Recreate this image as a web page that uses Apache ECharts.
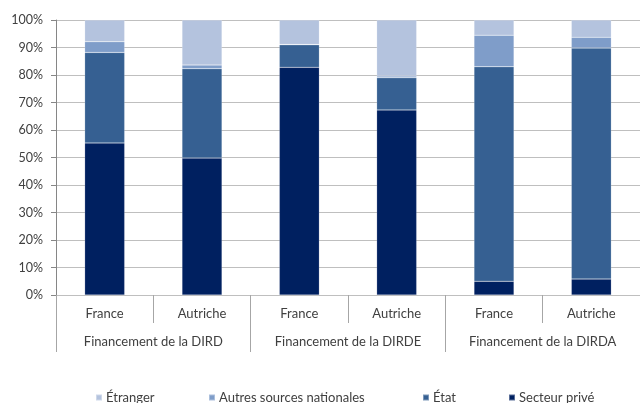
<!DOCTYPE html>
<html><head><meta charset="utf-8">
<script src="https://cdn.jsdelivr.net/npm/echarts@6/dist/echarts.min.js"></script>
<style>html,body{margin:0;padding:0;background:#fff}#c{width:640px;height:403px}</style>
</head><body><div id="c"></div>
<script>
const countries = ['France','Autriche','France','Autriche','France','Autriche'];
const groups = ['Financement de la DIRD','Financement de la DIRDE','Financement de la DIRDA'];
const yTicks = [0,10,20,30,40,50,60,70,80,90,100];
const seriesNames = ['Étranger','Autres sources nationales','État','Secteur privé'];
const secteurPrive = [55.3, 49.8, 82.8, 67.3, 5.0, 5.8];
const etat = [32.9, 32.5, 8.2, 11.7, 78.0, 84.0];
const autres = [3.9, 1.3, 0.1, 0.6, 11.5, 3.9];
const etranger = [7.9, 16.4, 8.9, 20.4, 5.5, 6.3];

const colors = {'Étranger':'#B4C3DE','Autres sources nationales':'#7F9DC9','État':'#366092','Secteur privé':'#002060'};
const font = 'Lato, "Open Sans", sans-serif';
const chart = echarts.init(document.getElementById('c'));
function bar(name, data){
  return {name, type:'bar', stack:'t', data, barWidth:40, xAxisIndex:0,
    itemStyle:{color:colors[name], borderColor:'rgba(255,255,255,0.35)', borderWidth:0.5}};
}
const legendLefts = [90, 203, 417, 503];
chart.setOption({
  animation:false,
  grid:{left:56, right:-4, top:20, bottom:108},
  legend: seriesNames.map((n,i)=>({data:[n], left:legendLefts[i], top:386, itemWidth:6, itemHeight:6, icon:'rect', itemGap:4,
    textStyle:{color:'#404040', fontSize:13, fontFamily:font, padding:[0,0,0,-1]}})),
  xAxis:[
    {type:'category', data:countries, position:'bottom',
      axisLine:{lineStyle:{color:'#BFBFBF'}},
      axisTick:{show:true, interval:0, length:28, lineStyle:{color:'#A6A6A6'}},
      axisLabel:{color:'#404040', fontSize:13, fontFamily:font, margin:12, interval:0}},
    {type:'category', data:groups, position:'bottom', offset:0,
      axisLine:{show:false},
      axisTick:{show:true, interval:0, length:57, lineStyle:{color:'#A6A6A6'}},
      axisLabel:{color:'#404040', fontSize:13, fontFamily:font, margin:40, interval:0}}
  ],
  yAxis:{type:'value', min:0, max:100, interval:10,
    axisLine:{show:true, lineStyle:{color:'#868686'}},
    axisTick:{show:true, length:5, lineStyle:{color:'#868686'}},
    splitLine:{lineStyle:{color:'#BFBFBF'}},
    axisLabel:{formatter: v => yTicks.includes(v) ? v + '%' : '', color:'#404040', fontSize:12.5, fontFamily:font, margin:13}},
  series:[bar('Secteur privé', secteurPrive), bar('État', etat), bar('Autres sources nationales', autres), bar('Étranger', etranger)]
});
</script></body></html>
